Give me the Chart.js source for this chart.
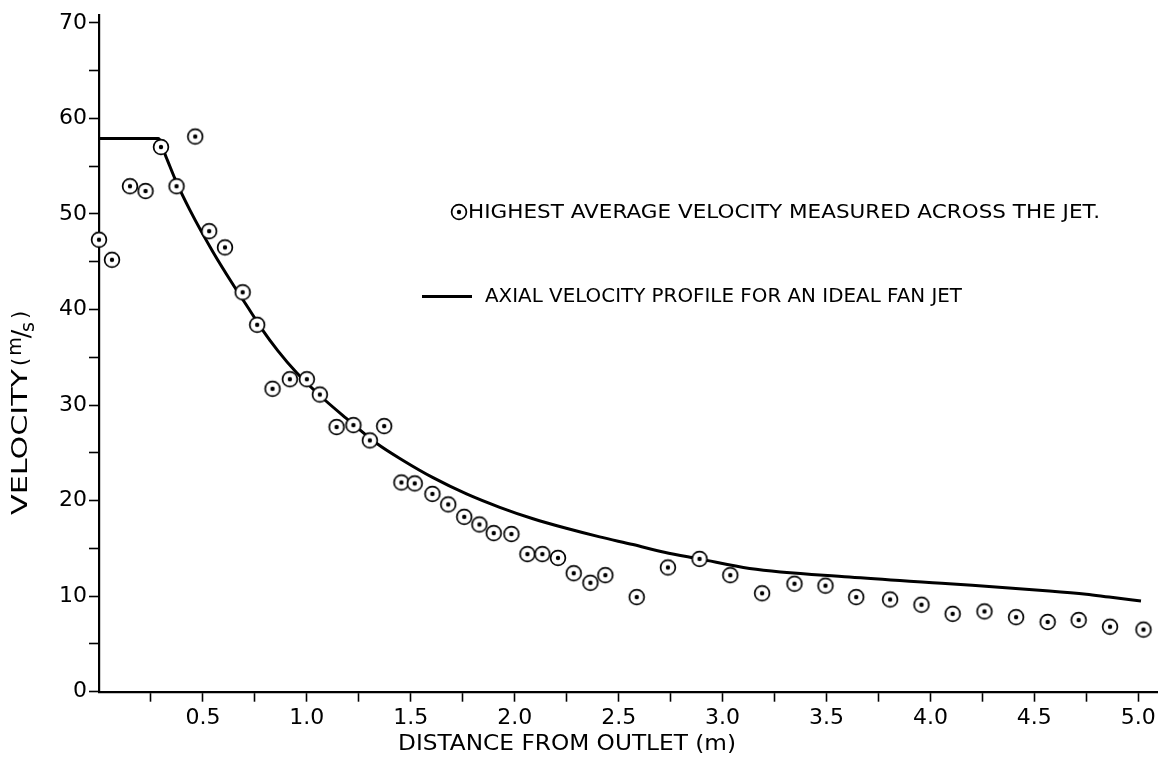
<!DOCTYPE html>
<html>
<head>
<meta charset="utf-8">
<script src="https://cdn.jsdelivr.net/npm/chart.js@4.4.0/dist/chart.umd.min.js"></script>
<style>
  html, body { margin: 0; padding: 0; background: #fff; overflow: hidden; }
  #wrap { width: 1159px; height: 758px; }
</style>
</head>
<body>
<div id="wrap"><canvas id="jet"></canvas></div>
<script>
// measured points: highest average velocity across the jet
const distance = [0, 0.0625, 0.149, 0.224, 0.298, 0.373, 0.463, 0.530, 0.606, 0.691,
  0.761, 0.835, 0.918, 1.0, 1.0625, 1.143, 1.224, 1.303, 1.372, 1.455,
  1.519, 1.604, 1.68, 1.757, 1.83, 1.899, 1.984, 2.061, 2.133, 2.208,
  2.284, 2.364, 2.436, 2.587, 2.737, 2.889, 3.037, 3.19, 3.346, 3.495,
  3.643, 3.806, 3.957, 4.107, 4.26, 4.412, 4.564, 4.713, 4.864, 5.025];
const velocity = [47.3, 45.2, 52.9, 52.4, 57.0, 52.9, 58.1, 48.2, 46.5, 41.8,
  38.4, 31.7, 32.7, 32.7, 31.1, 27.7, 27.9, 26.3, 27.8, 21.9,
  21.8, 20.7, 19.6, 18.3, 17.5, 16.6, 16.5, 14.4, 14.4, 14.0,
  12.4, 11.4, 12.2, 9.9, 13.0, 13.9, 12.2, 10.3, 11.3, 11.1,
  9.9, 9.65, 9.1, 8.15, 8.4, 7.8, 7.3, 7.5, 6.8, 6.5];

// ideal fan jet axial velocity profile
const profileDistance = [0, 0.285, 0.322, 0.373, 0.4375, 0.549, 0.654, 0.726, 0.782, 0.86,
  0.95, 1.0625, 1.19, 1.335, 1.463, 1.607, 1.768, 1.928, 2.088, 2.248,
  2.409, 2.569, 2.72, 2.889, 3.13, 3.61, 4.09, 4.572, 4.75, 4.86, 5.013];
const profileVelocity = [57.9, 57.9, 56.0, 53.3, 50.4, 46.0, 42.3, 39.9, 38.0, 35.7,
  33.4, 31.0, 28.6, 26.0, 24.2, 22.4, 20.7, 19.3, 18.1, 17.1,
  16.2, 15.4, 14.6, 13.9, 12.9, 12.0, 11.3, 10.55, 10.2, 9.9, 9.5];

const xTicks = [0.25, 0.5, 0.75, 1.0, 1.25, 1.5, 1.75, 2.0, 2.25, 2.5, 2.75, 3.0,
  3.25, 3.5, 3.75, 4.0, 4.25, 4.5, 4.75, 5.0];
const xTickLabels = ['0.5', '1.0', '1.5', '2.0', '2.5', '3.0', '3.5', '4.0', '4.5', '5.0'];
const yTicks = [0, 5, 10, 15, 20, 25, 30, 35, 40, 45, 50, 55, 60, 65, 70];
const yTickLabels = ['0', '10', '20', '30', '40', '50', '60', '70'];

const legendPoints = 'HIGHEST AVERAGE VELOCITY MEASURED ACROSS THE JET.';
const legendLine = 'AXIAL VELOCITY PROFILE FOR AN IDEAL FAN JET';
const xTitle = 'DISTANCE FROM OUTLET (m)';

const FONT = '"DejaVu Sans", sans-serif';

// circle with a dot in the middle
function dotCircle() {
  const c = document.createElement('canvas');
  c.width = 20; c.height = 20;
  const g = c.getContext('2d');
  g.beginPath();
  g.arc(10, 10, 7.4, 0, Math.PI * 2);
  g.fillStyle = '#fff';
  g.fill();
  g.lineWidth = 1.7;
  g.strokeStyle = '#000';
  g.stroke();
  g.beginPath();
  g.arc(10, 10, 2.2, 0, Math.PI * 2);
  g.fillStyle = '#000';
  g.fill();
  return c;
}
const marker = dotCircle();

// draws text squeezed or stretched to a given width
function fitText(ctx, text, x, y, width) {
  const w = ctx.measureText(text).width;
  ctx.save();
  ctx.translate(x, y);
  ctx.scale(width / w, 1);
  ctx.fillText(text, 0, 0);
  ctx.restore();
}

const annotations = {
  id: 'annotations',
  afterDraw(chart) {
    const ctx = chart.ctx;
    ctx.save();
    ctx.fillStyle = '#000';
    ctx.strokeStyle = '#000';

    // legend
    ctx.font = '19px ' + FONT;
    ctx.textBaseline = 'middle';
    ctx.textAlign = 'left';
    ctx.drawImage(marker, 459 - 10, 212 - 10);
    fitText(ctx, legendPoints, 468, 213, 632);
    ctx.beginPath();
    ctx.lineWidth = 3;
    ctx.moveTo(422, 296.5);
    ctx.lineTo(472, 296.5);
    ctx.stroke();
    fitText(ctx, legendLine, 485, 297, 477);

    // x axis title
    ctx.font = '21px ' + FONT;
    fitText(ctx, xTitle, 398, 745, 338);

    // y axis title, rotated, with m/s as a fraction
    ctx.translate(22, 403);
    ctx.rotate(-Math.PI / 2);
    ctx.font = '21px ' + FONT;
    fitText(ctx, 'VELOCITY', -112, 0, 146);
    let x = 37;
    ctx.fillText('(', x, 0);
    x += ctx.measureText('(').width + 2;
    ctx.font = '19px ' + FONT;
    ctx.fillText('m', x, -6);
    x += ctx.measureText('m').width - 1;
    ctx.font = '25px ' + FONT;
    ctx.fillText('/', x, 0);
    x += ctx.measureText('/').width - 2;
    ctx.font = '19px ' + FONT;
    ctx.fillText('s', x, 7);
    x += ctx.measureText('s').width + 3;
    ctx.font = '21px ' + FONT;
    ctx.fillText(')', x, 0);
    ctx.restore();
  }
};

new Chart(document.getElementById('jet'), {
  type: 'scatter',
  data: {
    datasets: [{
      label: legendPoints,
      data: distance.map((d, i) => ({ x: d, y: velocity[i] })),
      pointStyle: marker,
      pointRadius: 8,
      pointHoverRadius: 8,
      showLine: false,
      clip: false,
      order: 0
    }, {
      label: legendLine,
      type: 'line',
      data: profileDistance.map((d, i) => ({ x: d, y: profileVelocity[i] })),
      borderColor: '#000',
      borderWidth: 3,
      pointRadius: 0,
      fill: false,
      cubicInterpolationMode: 'monotone',
      order: 1
    }]
  },
  options: {
    responsive: true,
    maintainAspectRatio: false,
    animation: false,
    events: [],
    layout: { autoPadding: false, padding: { left: 0, right: 2, top: 14, bottom: 0 } },
    plugins: {
      legend: { display: false },
      tooltip: { enabled: false }
    },
    scales: {
      x: {
        type: 'linear',
        min: 0,
        max: 5.09,
        afterBuildTicks: s => { s.ticks = xTicks.map(v => ({ value: v })); },
        afterFit: s => {
          s.height = 758 - 691.7;
          s.paddingLeft = 0;
          s.paddingRight = 0;
        },
        border: { display: true, color: '#000', width: 2.2 },
        grid: { display: true, drawOnChartArea: false, drawTicks: true, tickLength: 10, tickColor: '#000', tickWidth: 1.6 },
        ticks: {
          autoSkip: false,
          maxRotation: 0,
          padding: 3,
          color: '#000',
          font: { family: FONT, size: 22 },
          callback: v => xTickLabels.includes(v.toFixed(1)) && v % 0.5 === 0 ? v.toFixed(1) : ''
        }
      },
      y: {
        min: 0,
        max: 70.8,
        afterBuildTicks: s => { s.ticks = yTicks.map(v => ({ value: v })); },
        afterFit: s => { s.width = 99; },
        border: { display: true, color: '#000', width: 2.2 },
        grid: { display: true, drawOnChartArea: false, drawTicks: true, tickLength: 10, tickColor: '#000', tickWidth: 1.6 },
        ticks: {
          autoSkip: false,
          padding: 2,
          color: '#000',
          font: { family: FONT, size: 22 },
          callback: v => yTickLabels.includes(String(v)) ? String(v) : ''
        }
      }
    }
  },
  plugins: [annotations]
});
</script>
</body>
</html>
